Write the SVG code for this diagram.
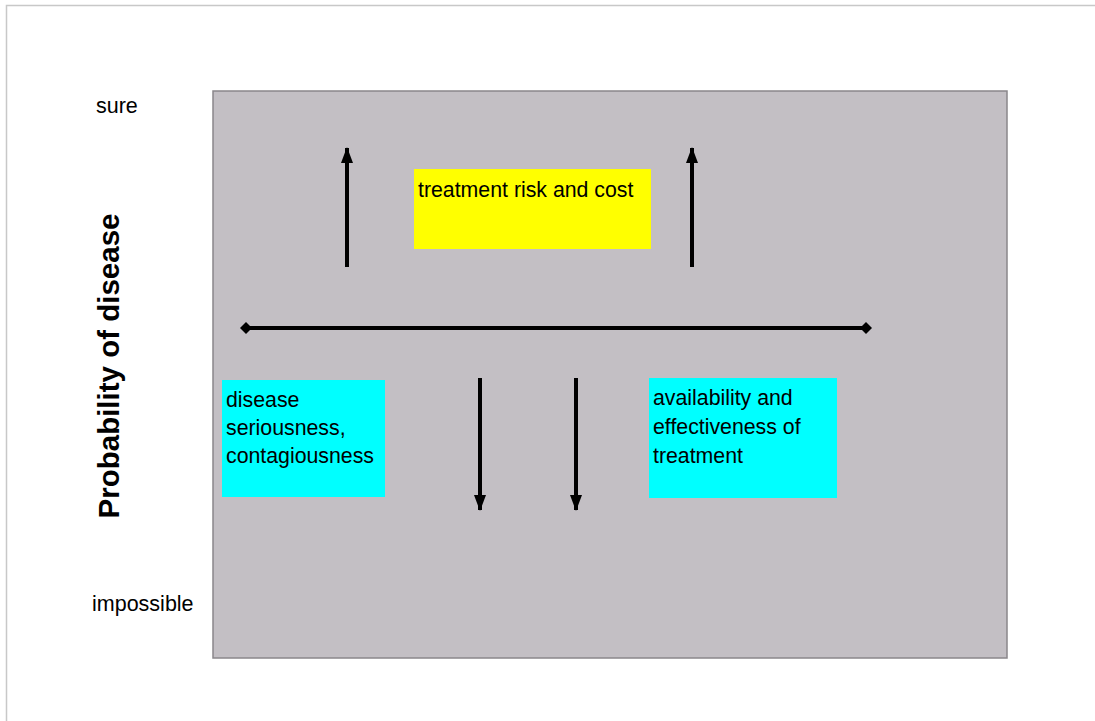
<svg xmlns="http://www.w3.org/2000/svg" width="1095" height="721" viewBox="0 0 1095 721">
<style>
.t{font-family:"Liberation Sans",Arial,sans-serif;fill:#000}
.lbl{font-size:21.3px}
.ax{font-size:21.5px}
.conn{stroke:#000;stroke-width:4;fill:none}
</style>
<defs>
<marker id="ah" viewBox="0 0 16 12" refX="15" refY="6" markerWidth="16" markerHeight="12" markerUnits="userSpaceOnUse" orient="auto-start-reverse">
<path d="M0,0 L16,6 L0,12 Z" fill="#000"/>
</marker>
<marker id="dm" viewBox="0 0 12 12" refX="6" refY="6" markerWidth="12" markerHeight="12" markerUnits="userSpaceOnUse" orient="auto">
<path d="M6,0 L12,6 L6,12 L0,6 Z" fill="#000"/>
</marker>
</defs>
<rect x="0" y="0" width="1095" height="721" fill="#fff"/>
<path d="M6.5,721 V5.5 H1095" fill="none" stroke="#c8c8c8" stroke-width="1.5"/>
<g id="plot">
<rect x="213" y="91" width="794" height="567" fill="#c3bfc4" stroke="#8a878b" stroke-width="1.5"/>
</g>
<g id="axis-labels">
<text class="t ax" x="96" y="113">sure</text>
<text class="t ax" x="92" y="611">impossible</text>
<text class="t" x="0" y="0" font-size="29.5" font-weight="bold" transform="translate(119,366) rotate(-90)" text-anchor="middle">Probability of disease</text>
</g>
<g id="node-risk">
<rect x="414" y="169" width="237" height="80" fill="#ffff00"/>
<text class="t lbl" x="418" y="197">treatment risk and cost</text>
</g>
<g id="node-seriousness">
<rect x="222" y="380" width="163" height="117" fill="#00ffff"/>
<text class="t lbl" x="226" y="407">disease</text>
<text class="t lbl" x="226" y="435">seriousness,</text>
<text class="t lbl" x="226" y="463">contagiousness</text>
</g>
<g id="node-availability">
<rect x="649" y="378" width="188" height="120" fill="#00ffff"/>
<text class="t lbl" x="653" y="405">availability and</text>
<text class="t lbl" x="653" y="434">effectiveness of</text>
<text class="t lbl" x="653" y="463">treatment</text>
</g>
<g id="connectors">
<line class="conn" x1="347" y1="267" x2="347" y2="148" marker-end="url(#ah)"/>
<line class="conn" x1="692" y1="267" x2="692" y2="148" marker-end="url(#ah)"/>
<line class="conn" x1="480" y1="378" x2="480" y2="510" marker-end="url(#ah)"/>
<line class="conn" x1="576" y1="378" x2="576" y2="510" marker-end="url(#ah)"/>
<line class="conn" x1="246" y1="328" x2="866" y2="328" marker-start="url(#dm)" marker-end="url(#dm)"/>
</g>
</svg>
